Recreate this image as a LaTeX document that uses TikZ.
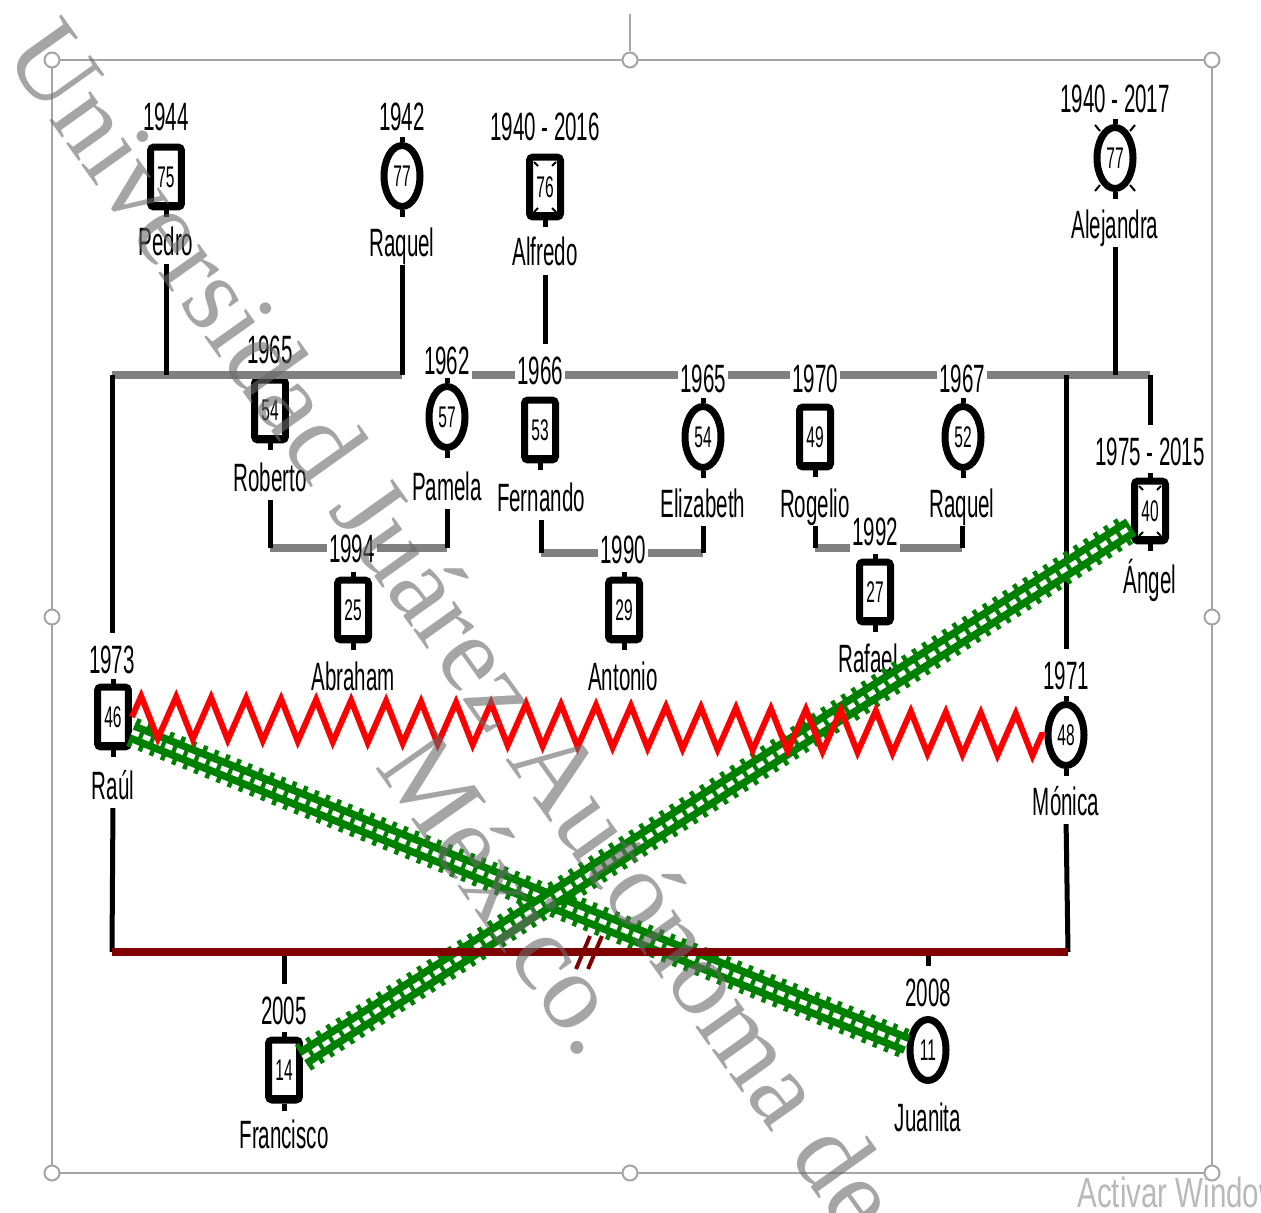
\documentclass[tikz,border=0pt]{standalone}
\usepackage{fontspec}
\usetikzlibrary{shapes.geometric,decorations.pathmorphing,calc}
\newfontfamily\nf[FakeStretch=0.52]{Liberation Sans}
\newfontfamily\af[FakeStretch=0.7]{Liberation Sans}
\newfontfamily\wmf{Liberation Serif}
\definecolor{gline}{RGB}{128,128,128}
\definecolor{dred}{RGB}{128,0,0}
\definecolor{gren}{RGB}{0,128,0}
\definecolor{frm}{RGB}{165,165,165}
\definecolor{wm}{RGB}{105,105,105}
\definecolor{actv}{RGB}{185,185,185}
\begin{document}
\begin{tikzpicture}[x=0.02cm,y=-0.02cm,
 lbl/.style={font=\nf\fontsize{22.5}{24}\selectfont, inner sep=1pt, text height=16pt, text depth=0pt},
 male/.style={draw=black, line width=0.14cm, rounded corners=0.07cm, minimum width=0.62cm, minimum height=1.2cm, inner sep=0pt, fill=white, font=\nf\fontsize{17}{17}\selectfont},
 female/.style={ellipse, draw=black, line width=0.14cm, minimum width=0.72cm, minimum height=1.22cm, inner sep=0pt, fill=white, font=\nf\fontsize{17}{17}\selectfont},
 blk/.style={line width=0.1cm, black},
 gry/.style={line width=0.16cm, gline},
 stemline/.style={line width=0.1cm, black},
 dmark/.style={line width=0.04cm, black},
 frame/.style={draw=frm, line width=0.04cm},
 handle/.style={circle, draw=frm, fill=white, line width=0.04cm, minimum size=0.3cm, inner sep=0pt},
 fromname/.style={blk, shorten <=0.14cm},
 toyear/.style={blk, shorten >=0.2cm},
 hostile/.style={draw=gren, line width=0.4cm, preaction={draw=gren, line width=0.6cm, dash pattern=on 0.09cm off 0.15cm}, postaction={draw=white, line width=0.1cm, dash pattern=on 0.15cm off 0.09cm}},
]
\useasboundingbox (0,0) rectangle (1261,1213);
% selection frame
\coordinate (c1) at (52,60);
\coordinate (c9) at (1212,1173);
\coordinate (rotTop) at (630,14);
\draw[frame] (c1) rectangle (c9);
\node[handle] (h1) at (52,60) {};
\node[handle] (h2) at (630,60) {};
\node[handle] (h3) at (1212,60) {};
\node[handle] (h4) at (52,617) {};
\node[handle] (h6) at (1212,617) {};
\node[handle] (h7) at (52,1173) {};
\node[handle] (h8) at (630,1173) {};
\node[handle] (h9) at (1212,1173) {};
\draw[frame] (rotTop) -- (h2);

% generation 1
\node[lbl] (y1944) at (166,116) {1944};
\node[male] (pedro) at (166,177) {75};
\node[lbl] (pedroN) at (166,241) {Pedro};
\node[lbl] (y1942) at (402,116) {1942};
\node[female] (raquel) at (402,176) {77};
\node[lbl] (raquelN) at (402,242) {Raquel};
\node[lbl] (y1940a) at (545,126) {1940 - 2016};
\node[male] (alfredo) at (545,187) {76};
\node[lbl] (alfredoN) at (545,251) {Alfredo};
\node[lbl] (y1940b) at (1115,98) {1940 - 2017};
\node[female] (alejandra) at (1115,158) {77};
\node[lbl] (alejandraN) at (1115,224) {Alejandra};

% generation 2
\node[lbl] (y1965a) at (270,349) {1965};
\node[male] (roberto) at (270,410) {54};
\node[lbl] (robertoN) at (270,477) {Roberto};
\node[lbl] (y1962) at (447,360) {1962};
\node[female] (pamela) at (447,417) {57};
\node[lbl] (pamelaN) at (447,486) {Pamela};
\node[lbl] (y1966) at (540,370) {1966};
\node[male] (fernando) at (540,430) {53};
\node[lbl] (fernandoN) at (541,497) {Fernando};
\node[lbl] (y1965b) at (703,378) {1965};
\node[female] (elizabeth) at (703,437) {54};
\node[lbl] (elizabethN) at (703,503) {Elizabeth};
\node[lbl] (y1970) at (815,378) {1970};
\node[male] (rogelio) at (815,437) {49};
\node[lbl] (rogelioN) at (815,503) {Rogelio};
\node[lbl] (y1967) at (962,378) {1967};
\node[female] (raquelb) at (963,437) {52};
\node[lbl] (raquelbN) at (962,503) {Raquel};
\node[lbl] (y1975) at (1150,451) {1975 - 2015};
\node[male] (angel) at (1150,511) {40};
\node[lbl] (angelN) at (1150,579) {Ángel};

% generation 3
\node[lbl] (y1994) at (352,548) {1994};
\node[male] (abraham) at (353,610) {25};
\node[lbl] (abrahamN) at (353,676) {Abraham};
\node[lbl] (y1990) at (623,549) {1990};
\node[male] (antonio) at (624,610) {29};
\node[lbl] (antonioN) at (623,676) {Antonio};
\node[lbl, fill=white] (y1992) at (875,531) {1992};
\node[male] (rafael) at (875,592) {27};
\node[lbl] (rafaelN) at (868,658) {Rafael};

\node[lbl] (y1973) at (112,659) {1973};
\node[male] (raul) at (113,717) {46};
\node[lbl] (raulN) at (113,785) {Raúl};
\node[lbl] (y1971) at (1066,675) {1971};
\node[female] (monica) at (1066,735) {48};
\node[lbl] (monicaN) at (1066,801) {Mónica};

% generation 4
\node[lbl] (y2005) at (284,1010) {2005};
\node[male] (francisco) at (284,1070) {14};
\node[lbl] (franciscoN) at (284,1134) {Francisco};
\node[lbl] (y2008) at (928,992) {2008};
\node[female] (juanita) at (928,1050) {11};
\node[lbl] (juanitaN) at (928,1117) {Juanita};

% thicker bottom edge of the squares
\foreach \n in {pedro,alfredo,roberto,fernando,rogelio,angel,abraham,antonio,rafael,raul,francisco}
  \draw[line width=0.1cm, black] ($(\n.south west)+(4,-6)$) -- ($(\n.south east)+(-4,-6)$);
% stems
\foreach \n in {pedro,raquel,alfredo,alejandra,roberto,pamela,fernando,elizabeth,rogelio,raquelb,angel,abraham,antonio,rafael,raul,monica,francisco}
  \draw[stemline] (\n.south) -- ++(0,7);
\foreach \n in {abraham,antonio,rafael,raul,monica,francisco,angel,pamela,elizabeth,raquelb,raquel,alejandra}
  \draw[stemline] (\n.north) -- ++(0,-5);

% deceased marks
\foreach \n in {alfredo,angel}{
  \draw[dmark] ($(\n.center)+(-11,-25)$) -- ++(4,4);
  \draw[dmark] ($(\n.center)+(11,-25)$) -- ++(-4,4);
  \draw[dmark] ($(\n.center)+(-11,25)$) -- ++(4,-4);
  \draw[dmark] ($(\n.center)+(11,25)$) -- ++(-4,-4);
}
\draw[dmark] ($(alejandra.center)+(-20,-33)$) -- ++(5,6);
\draw[dmark] ($(alejandra.center)+(20,-33)$) -- ++(-5,6);
\draw[dmark] ($(alejandra.center)+(-20,33)$) -- ++(5,-6);
\draw[dmark] ($(alejandra.center)+(20,33)$) -- ++(-5,-6);

% top gray line
\coordinate (gL) at (112,375);
\coordinate (gRq) at (402,375);
\coordinate (gR) at (1150,375);
\draw[gry] (gL) -- (gRq);
\draw[gry] (y1962.east |- gL) -- (y1966.west |- gL);
\draw[gry] (y1966.east |- gL) -- (y1965b.west |- gL);
\draw[gry] (y1965b.east |- gL) -- (y1970.west |- gL);
\draw[gry] (y1970.east |- gL) -- (y1967.west |- gL);
\draw[gry] (y1967.east |- gL) -- (gR);

\draw[fromname] (pedroN.south) -- (pedroN.south |- gL);
\draw[fromname] (raquelN.south) -- (gRq);
\draw[fromname] (alejandraN.south) -- (alejandraN.south |- gL);
\draw[blk, shorten <=0.16cm, shorten >=0.2cm] (alfredoN.south) -- (alfredoN.south |- y1966.north);
\draw[toyear] (gL) -- (y1973.north);
\draw[toyear] (gR) -- (y1975.north);
\draw[toyear] (y1971.north |- gL) -- (y1971.north);

% second-level couples
\coordinate (r1) at (270,548);
\coordinate (r2) at (447,548);
\draw[gry] (r1) -- (y1994.west |- r1);
\draw[gry] (y1994.east |- r2) -- (r2);
\draw[fromname] (robertoN.south) -- (r1);
\draw[fromname] (pamelaN.south) -- (r2);
\coordinate (f1) at (541,553);
\coordinate (f2) at (703,553);
\draw[gry] (f1) -- (y1990.west |- f1);
\draw[gry] (y1990.east |- f2) -- (f2);
\draw[fromname] (fernandoN.south) -- (f1);
\draw[fromname] (elizabethN.south) -- (f2);
\coordinate (o1) at (815,548);
\coordinate (o2) at (962,548);
\draw[gry] (o1) -- (y1992.west |- o1);
\draw[gry] (y1992.east |- o2) -- (o2);
\draw[fromname] (rogelioN.south) -- (o1);
\draw[fromname] (raquelbN.south) -- (o2);

% bottom couple
\coordinate (rL) at (112,952);
\coordinate (rR) at (1068,952);
\coordinate (rF) at (284,952);
\coordinate (rJ) at (928,952);
\draw[fromname] (raulN.south) -- (rL);
\draw[fromname] (monicaN.south) -- (rR);
\draw[toyear] (rF) -- (y2005.north);
\draw[toyear] (rJ) -- (y2008.north);

% hostile relations
\draw[hostile] ($(raul.east)+(0,15)$) -- (juanita.165);
\draw[hostile] ($(francisco.east)+(0,-12)$) -- ($(angel.west)+(0,16)$);

% conflictive relation
\draw[red, line width=0.12cm, line join=miter, decorate, decoration={zigzag, amplitude=0.42cm, segment length=0.7cm}] (raul.east) -- (monica.west);

% marriage line with separation mark
\draw[dred, line width=0.16cm] (rL) -- (rR);
\coordinate (s1a) at (576,969); \coordinate (s1b) at (590,936);
\coordinate (s2a) at (588,969); \coordinate (s2b) at (602,936);
\draw[dred, line width=0.08cm] (s1a) -- (s1b);
\draw[dred, line width=0.08cm] (s2a) -- (s2b);

% watermarks
\node[font=\wmf\fontsize{62}{62}\selectfont, text=wm, opacity=0.6, rotate=-54.5, anchor=west, inner sep=0pt] (wm1) at (33,33) {Universidad Juárez Autónoma de};
\node[font=\wmf\fontsize{62}{62}\selectfont, text=wm, opacity=0.6, rotate=-55, inner sep=0pt] (wm2) at (508,893) {México.};
\node[font=\af\fontsize{24}{24}\selectfont, text=actv, anchor=west, inner sep=0pt] (actw) at (1077,1192) {Activar Windows};
\end{tikzpicture}
\end{document}
